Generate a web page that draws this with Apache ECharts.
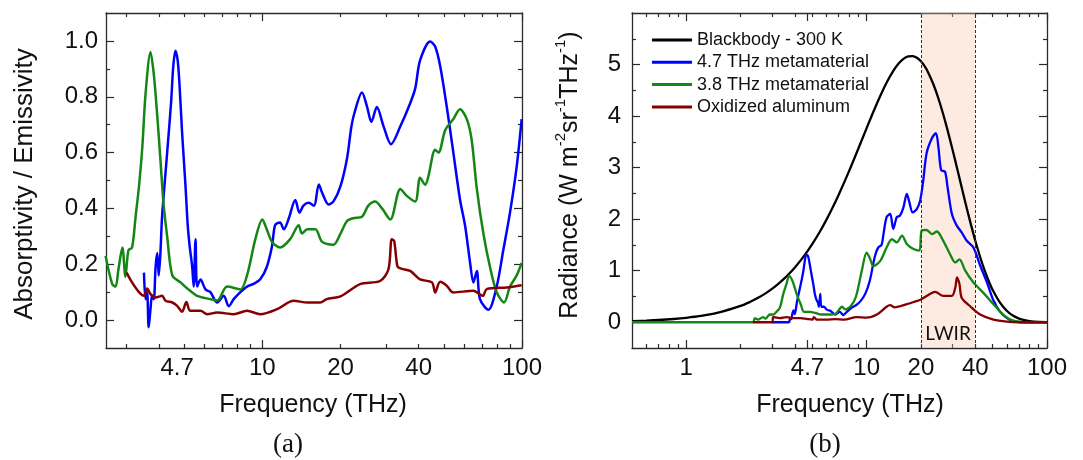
<!DOCTYPE html>
<html>
<head>
<meta charset="utf-8">
<script src="https://cdn.jsdelivr.net/npm/echarts@6/dist/echarts.min.js"></script>
<style>
  html, body { margin: 0; padding: 0; background: #fff; }
  #chart { width: 1083px; height: 460px; }
</style>
</head>
<body>
<div id="chart"></div>
<script>
// ---- panel (a): absorptivity / emissivity, [frequency THz, value] ----
const absBlue = [
  [3.50, 0.17], [3.55, 0.075], [3.60, 0.10], [3.65, -0.026], [3.71, 0.04], [3.76, 0.087], [3.82, 0.075],
  [3.88, 0.19], [3.94, 0.24], [3.99, 0.16], [4.05, 0.24], [4.11, 0.37], [4.24, 0.53], [4.36, 0.67],
  [4.46, 0.79], [4.54, 0.91], [4.63, 0.965], [4.72, 0.93], [4.80, 0.84], [4.91, 0.67], [5.06, 0.48],
  [5.16, 0.34], [5.25, 0.265], [5.37, 0.19], [5.44, 0.12], [5.53, 0.29], [5.61, 0.12], [5.78, 0.145],
  [6.04, 0.11], [6.31, 0.10], [6.70, 0.063], [7.10, 0.087], [7.42, 0.05], [7.76, 0.075], [8.23, 0.10],
  [8.73, 0.12], [9.26, 0.13], [9.82, 0.146], [10.4, 0.19], [10.9, 0.265], [11.2, 0.34], [11.7, 0.35],
  [12.1, 0.325], [12.6, 0.36], [13.4, 0.43], [13.9, 0.385], [14.4, 0.41], [15.1, 0.42], [15.8, 0.41],
  [16.5, 0.486], [17.0, 0.456], [18.0, 0.414], [18.8, 0.425], [20.0, 0.48], [21.2, 0.58], [22.0, 0.69],
  [22.6, 0.74], [24.2, 0.815], [25.3, 0.765], [26.3, 0.71], [27.6, 0.763], [29.3, 0.694], [31.3, 0.63],
  [34.0, 0.694], [37.1, 0.777], [38.8, 0.83], [40.5, 0.93], [44.3, 0.998], [46.3, 0.98], [48.4, 0.91],
  [51.3, 0.765], [54.4, 0.60], [57.7, 0.432], [60.4, 0.337], [63.1, 0.206], [65.0, 0.135], [67.0, 0.176],
  [68.9, 0.075], [74.2, 0.037], [79.9, 0.12], [84.7, 0.25], [89.9, 0.385], [95.4, 0.55], [99.7, 0.72]
];
const absGreen = [
  [2.49, 0.23], [2.64, 0.13], [2.72, 0.12], [2.79, 0.18], [2.89, 0.26], [2.97, 0.155], [3.05, 0.25],
  [3.15, 0.26], [3.25, 0.37], [3.35, 0.48], [3.45, 0.62], [3.55, 0.81], [3.71, 0.96], [3.82, 0.88],
  [3.94, 0.73], [4.05, 0.575], [4.17, 0.41], [4.30, 0.30], [4.50, 0.16], [4.84, 0.135], [5.19, 0.11],
  [5.61, 0.087], [6.31, 0.075], [6.70, 0.07], [7.32, 0.12], [8.23, 0.11], [8.73, 0.16], [9.40, 0.29],
  [10.0, 0.36], [10.4, 0.325], [10.9, 0.28], [11.7, 0.26], [12.8, 0.29], [13.8, 0.34], [14.2, 0.31],
  [14.9, 0.325], [16.0, 0.325], [17.0, 0.28], [18.8, 0.27], [20.0, 0.31], [21.2, 0.355], [22.4, 0.365],
  [24.2, 0.37], [25.6, 0.41], [27.2, 0.425], [28.9, 0.40], [31.1, 0.36], [34.0, 0.47], [36.0, 0.445],
  [38.8, 0.425], [40.5, 0.51], [42.4, 0.485], [43.6, 0.515], [46.3, 0.61], [47.7, 0.60], [50.6, 0.68],
  [54.4, 0.72], [57.7, 0.755], [61.3, 0.72], [64.0, 0.645], [67.0, 0.47], [71.0, 0.31], [75.3, 0.19],
  [79.9, 0.10], [85.3, 0.063], [89.9, 0.12], [95.4, 0.16], [99.7, 0.205]
];
const absRed = [
  [3.00, 0.17], [3.15, 0.135], [3.35, 0.10], [3.50, 0.087], [3.60, 0.113], [3.71, 0.093], [3.88, 0.081],
  [4.11, 0.087], [4.24, 0.069], [4.50, 0.063], [4.70, 0.051], [4.91, 0.03], [5.10, 0.065], [5.28, 0.033],
  [5.78, 0.033], [6.13, 0.021], [6.70, 0.027], [7.76, 0.021], [8.73, 0.033], [9.82, 0.021], [11.4, 0.039],
  [13.2, 0.069], [14.9, 0.063], [16.7, 0.063], [17.7, 0.075], [20.0, 0.085], [23.8, 0.129], [28.4, 0.14],
  [30.6, 0.182], [31.5, 0.29], [32.2, 0.283], [33.1, 0.194], [34.0, 0.185], [37.1, 0.176], [40.5, 0.146],
  [45.0, 0.135], [46.3, 0.099], [48.4, 0.137], [51.3, 0.123], [54.4, 0.099], [65.0, 0.105], [70.6, 0.087],
  [73.1, 0.111], [87.3, 0.117], [99.7, 0.125]
];

// ---- panel (b): radiance W m^-2 sr^-1 THz^-1, [frequency THz, value] ----
const radBlackbody = [
  [0.5, 0.022], [0.6, 0.032], [0.7, 0.043], [0.85, 0.063], [1, 0.086], [1.2, 0.122], [1.5, 0.185],
  [2, 0.316], [2.25, 0.392], [2.5, 0.473], [2.75, 0.56], [3, 0.652], [3.25, 0.75], [3.5, 0.85],
  [3.75, 0.955], [4, 1.063], [4.35, 1.219], [4.7, 1.379], [5, 1.519], [5.5, 1.756], [6, 1.996],
  [6.5, 2.236], [7, 2.474], [8, 2.936], [9, 3.371], [10, 3.767], [11, 4.119], [12, 4.42], [13, 4.671],
  [14, 4.869], [15, 5.015], [16, 5.111], [17, 5.159], [18, 5.165], [19, 5.132], [20, 5.063], [21, 4.963],
  [22, 4.838], [23.5, 4.607], [25, 4.341], [26.5, 4.051], [28, 3.747], [30, 3.337], [32, 2.934],
  [34, 2.551], [36, 2.196], [38, 1.874], [40, 1.587], [42.5, 1.275], [45, 1.014], [47.5, 0.799],
  [50, 0.624], [55, 0.374], [60, 0.218], [65, 0.124], [70, 0.07], [75, 0.039], [80, 0.021], [90, 0.006],
  [100, 0.002]
];
const radBlue = [
  [3.0, 0], [3.7, 0], [3.76, 0.07], [3.82, 0.06], [3.88, 0.18], [3.94, 0.23], [3.99, 0.16], [4.05, 0.25],
  [4.11, 0.4], [4.24, 0.62], [4.36, 0.82], [4.46, 1.0], [4.54, 1.19], [4.62, 1.31], [4.72, 1.29],
  [4.80, 1.19], [4.91, 0.99], [5.06, 0.74], [5.16, 0.55], [5.25, 0.45], [5.37, 0.38], [5.44, 0.3],
  [5.53, 0.55], [5.61, 0.3], [5.78, 0.3], [6.04, 0.24], [6.31, 0.22], [6.70, 0.15], [7.10, 0.2],
  [7.42, 0.14], [7.76, 0.2], [8.23, 0.28], [8.73, 0.33], [9.2, 0.4], [9.82, 0.55], [10.4, 0.8],
  [10.9, 1.15], [11.2, 1.32], [11.6, 1.45], [12.1, 1.5], [12.4, 1.71], [12.9, 2.04], [13.5, 2.1],
  [14.05, 1.81], [14.7, 2.04], [15.3, 2.07], [16.0, 2.23], [16.7, 2.49], [17.25, 2.33], [18.0, 2.13],
  [19.0, 2.2], [19.8, 2.36], [20.6, 2.75], [21.5, 3.28], [23.0, 3.57], [24.2, 3.67], [25.0, 3.4],
  [25.9, 2.95], [27.2, 2.92], [28.1, 2.62], [29.7, 2.1], [31.6, 1.875], [33.7, 1.74], [35.9, 1.58],
  [39.1, 1.45], [42.6, 1.1], [46.4, 0.78], [50.5, 0.42], [55, 0.2], [60, 0.08], [65, 0.02], [72, 0],
  [100, 0]
];
const radGreen = [
  [0.5, 0], [2.34, 0], [2.40, 0.08], [2.5, 0.05], [2.66, 0.1], [2.75, 0.07], [2.9, 0.15], [3.05, 0.15],
  [3.15, 0.2], [3.30, 0.28], [3.45, 0.55], [3.59, 0.74], [3.72, 0.9], [3.88, 0.8], [4.05, 0.6],
  [4.17, 0.47], [4.30, 0.36], [4.50, 0.2], [4.84, 0.2], [5.19, 0.18], [5.61, 0.15], [6.31, 0.15],
  [6.70, 0.16], [7.32, 0.3], [7.6, 0.25], [8.23, 0.33], [8.73, 0.5], [9.40, 1.0], [10.0, 1.35],
  [10.4, 1.25], [10.9, 1.09], [11.9, 1.19], [12.9, 1.45], [13.8, 1.61], [14.7, 1.55], [15.7, 1.68],
  [16.7, 1.52], [18.2, 1.42], [19.6, 1.39], [20.2, 1.78], [21.5, 1.79], [23.0, 1.71], [24.5, 1.76],
  [26.6, 1.58], [29.0, 1.32], [31.0, 1.16], [32.7, 1.22], [35.2, 1.0], [39.1, 0.77], [44.4, 0.57],
  [50.5, 0.35], [57.4, 0.14], [65.2, 0.03], [77.4, 0], [100, 0]
];
const radRed = [
  [2.34, 0], [3.0, 0], [3.03, 0.1], [3.3, 0.08], [3.6, 0.1], [3.9, 0.08], [4.3, 0.08], [4.7, 0.06],
  [5.0, 0.05], [5.1, 0.1], [5.3, 0.05], [6.0, 0.05], [6.7, 0.06], [7.5, 0.05], [8.8, 0.1], [10, 0.09],
  [11.4, 0.15], [12.9, 0.3], [13.5, 0.33], [14.3, 0.29], [16.7, 0.35], [18.5, 0.4], [20, 0.44],
  [22, 0.53], [24, 0.59], [26.6, 0.51], [29.7, 0.51], [31, 0.67], [31.7, 0.87], [32.7, 0.74],
  [33.7, 0.47], [37.5, 0.31], [42.6, 0.15], [50.5, 0.05], [60, 0.01], [70, 0], [100, 0]
];

// ---- ticks ----
const aXLabels = [4.7, 10, 20, 40, 100];
const aXMajor = [10, 100];
const aXMinor = [3, 4, 5, 6, 7, 8, 9, 20, 30, 40, 50, 60, 70, 80, 90];
const aYLabels = [0, 0.2, 0.4, 0.6, 0.8, 1.0];
const aYMinor = [0.1, 0.3, 0.5, 0.7, 0.9];

const bXLabels = [1, 4.7, 10, 20, 40, 100];
const bXMajor = [1, 4.7, 10, 100];
const bXMinor = [0.6, 0.7, 0.8, 0.9, 2, 3, 4, 5, 6, 7, 8, 9, 20, 30, 40, 50, 60, 70, 80, 90];
const bYLabels = [0, 1, 2, 3, 4, 5];
const bYMinor = [0.5, 1.5, 2.5, 3.5, 4.5, 5.5];

const lwirBand = [20, 40];
const legendNames = ['Blackbody - 300 K', '4.7 THz metamaterial', '3.8 THz metamaterial', 'Oxidized aluminum'];

const FONT = '"Liberation Sans", Arial, Helvetica, sans-serif';
const INK = '#111';
const AX = '#2a2a2a';
const C_BLUE = '#0000ff';
const C_GREEN = '#138613';
const C_RED = '#850000';

const chart = echarts.init(document.getElementById('chart'));

const fmtNum = (v) => String(Math.round(v * 10) / 10);

// 4 x axes per grid: bottom (line, labels, major), bottom minor, top major, top minor
const makeXAxes = (gridIndex, min, labels, major, minor) => {
  const base = { type: 'log', logBase: 10, gridIndex, min, max: 100, splitLine: { show: false } };
  const line = { show: true, onZero: false, lineStyle: { color: AX, width: 1.3 } };
  const noLine = { show: false, onZero: false };
  const tick = (values, length) => ({ show: true, inside: true, length, customValues: values, lineStyle: { color: AX, width: 1.2 } });
  return [
    {
      ...base, position: 'bottom', axisLine: line, axisTick: tick(major, 8),
      axisLabel: { show: true, customValues: labels, formatter: fmtNum, fontSize: 24, fontFamily: FONT, color: INK, margin: 8 }
    },
    { ...base, position: 'bottom', axisLine: noLine, axisTick: tick(minor, 4), axisLabel: { show: false } },
    { ...base, position: 'top', axisLine: line, axisTick: tick(major, 8), axisLabel: { show: false } },
    { ...base, position: 'top', axisLine: noLine, axisTick: tick(minor, 4), axisLabel: { show: false } }
  ];
};

const makeYAxes = (gridIndex, min, max, labels, minor, decimals, margin) => {
  const base = { type: 'value', gridIndex, min, max, splitLine: { show: false } };
  const line = { show: true, onZero: false, lineStyle: { color: AX, width: 1.3 } };
  const noLine = { show: false, onZero: false };
  const tick = (values, length) => ({ show: true, inside: true, length, customValues: values, lineStyle: { color: AX, width: 1.2 } });
  return [
    {
      ...base, position: 'left', axisLine: line, axisTick: tick(labels, 8),
      axisLabel: { show: true, customValues: labels, formatter: (v) => v.toFixed(decimals), fontSize: 24, fontFamily: FONT, color: INK, margin }
    },
    { ...base, position: 'left', axisLine: noLine, axisTick: tick(minor, 4), axisLabel: { show: false } },
    { ...base, position: 'right', axisLine: line, axisTick: tick(labels, 8), axisLabel: { show: false } },
    { ...base, position: 'right', axisLine: noLine, axisTick: tick(minor, 4), axisLabel: { show: false } }
  ];
};

const lineSeries = (name, data, color, width, axisIndex, extra) => ({
  name,
  type: 'line',
  data,
  xAxisIndex: axisIndex,
  yAxisIndex: axisIndex,
  showSymbol: false,
  symbol: 'none',
  smooth: 0.3,
  lineStyle: { color, width },
  itemStyle: { color },
  emphasis: { disabled: true },
  ...(extra || {})
});

const option = {
  animation: false,
  backgroundColor: '#fff',
  grid: [
    { left: 106, top: 13, width: 416, height: 335 },
    { left: 632, top: 13, width: 415, height: 335 }
  ],
  xAxis: [
    ...makeXAxes(0, 2.5, aXLabels, aXMajor, aXMinor),
    ...makeXAxes(1, 0.5, bXLabels, bXMajor, bXMinor)
  ],
  yAxis: [
    ...makeYAxes(0, -0.1, 1.1, aYLabels, aYMinor, 1, 8),
    ...makeYAxes(1, -0.5, 6, bYLabels, bYMinor, 0, 11)
  ],
  legend: {
    data: legendNames,
    orient: 'vertical',
    left: 647,
    top: 26,
    icon: 'rect',
    itemWidth: 40,
    itemHeight: 3,
    itemGap: 4.3,
    selectedMode: false,
    textStyle: { fontSize: 18, fontFamily: FONT, color: INK, lineHeight: 18 }
  },
  series: [
    lineSeries('(a) 4.7 THz', absBlue, C_BLUE, 2.5, 0),
    lineSeries('(a) 3.8 THz', absGreen, C_GREEN, 2.5, 0),
    lineSeries('(a) Al', absRed, C_RED, 2.5, 0),
    lineSeries(legendNames[0], radBlackbody, '#000', 2.3, 4, {
      markArea: {
        z: 3,
        silent: true,
        itemStyle: { color: 'rgba(249, 196, 165, 0.35)' },
        label: {
          show: true, position: 'insideBottom', distance: 5, formatter: 'LWIR',
          fontFamily: 'Lato, "Open Sans", sans-serif', fontSize: 19, color: INK
        },
        data: [[{ xAxis: lwirBand[0] }, { xAxis: lwirBand[1] }]]
      },
      markLine: {
        z: 5,
        silent: true,
        symbol: 'none',
        label: { show: false },
        lineStyle: { color: '#333', width: 1, type: [3, 2] },
        data: lwirBand.map((v) => ({ xAxis: v }))
      }
    }),
    lineSeries(legendNames[1], radBlue, C_BLUE, 2.3, 4),
    lineSeries(legendNames[2], radGreen, C_GREEN, 2.3, 4),
    lineSeries(legendNames[3], radRed, C_RED, 2.3, 4)
  ],
  graphic: [
    {
      type: 'text', x: 25, y: 184, rotation: Math.PI / 2,
      style: { text: 'Absorptivity / Emissivity', fontSize: 26, fontFamily: FONT, fill: INK, align: 'center', verticalAlign: 'middle' }
    },
    {
      type: 'text', x: 568, y: 175, rotation: Math.PI / 2,
      style: {
        text: '{n|Radiance (W m}{s|-2}{n|sr}{s|-1}{n|THz}{s|-1}{n|)}',
        fill: INK, align: 'center', verticalAlign: 'middle',
        rich: {
          n: { fontSize: 25, fontFamily: FONT, fill: INK, lineHeight: 30, verticalAlign: 'bottom' },
          s: { fontSize: 15, fontFamily: FONT, fill: INK, lineHeight: 14, verticalAlign: 'top' }
        }
      }
    },
    {
      type: 'text', x: 313, y: 405,
      style: { text: 'Frequency (THz)', fontSize: 25, fontFamily: FONT, fill: INK, align: 'center', verticalAlign: 'middle' }
    },
    {
      type: 'text', x: 850, y: 405,
      style: { text: 'Frequency (THz)', fontSize: 25, fontFamily: FONT, fill: INK, align: 'center', verticalAlign: 'middle' }
    },
    {
      type: 'text', x: 288, y: 445,
      style: { text: '(a)', fontSize: 27, fontFamily: '"Liberation Serif", "Times New Roman", serif', fill: INK, align: 'center', verticalAlign: 'middle' }
    },
    {
      type: 'text', x: 825, y: 445,
      style: { text: '(b)', fontSize: 27, fontFamily: '"Liberation Serif", "Times New Roman", serif', fill: INK, align: 'center', verticalAlign: 'middle' }
    }
  ]
};

chart.setOption(option);
</script>
</body>
</html>
